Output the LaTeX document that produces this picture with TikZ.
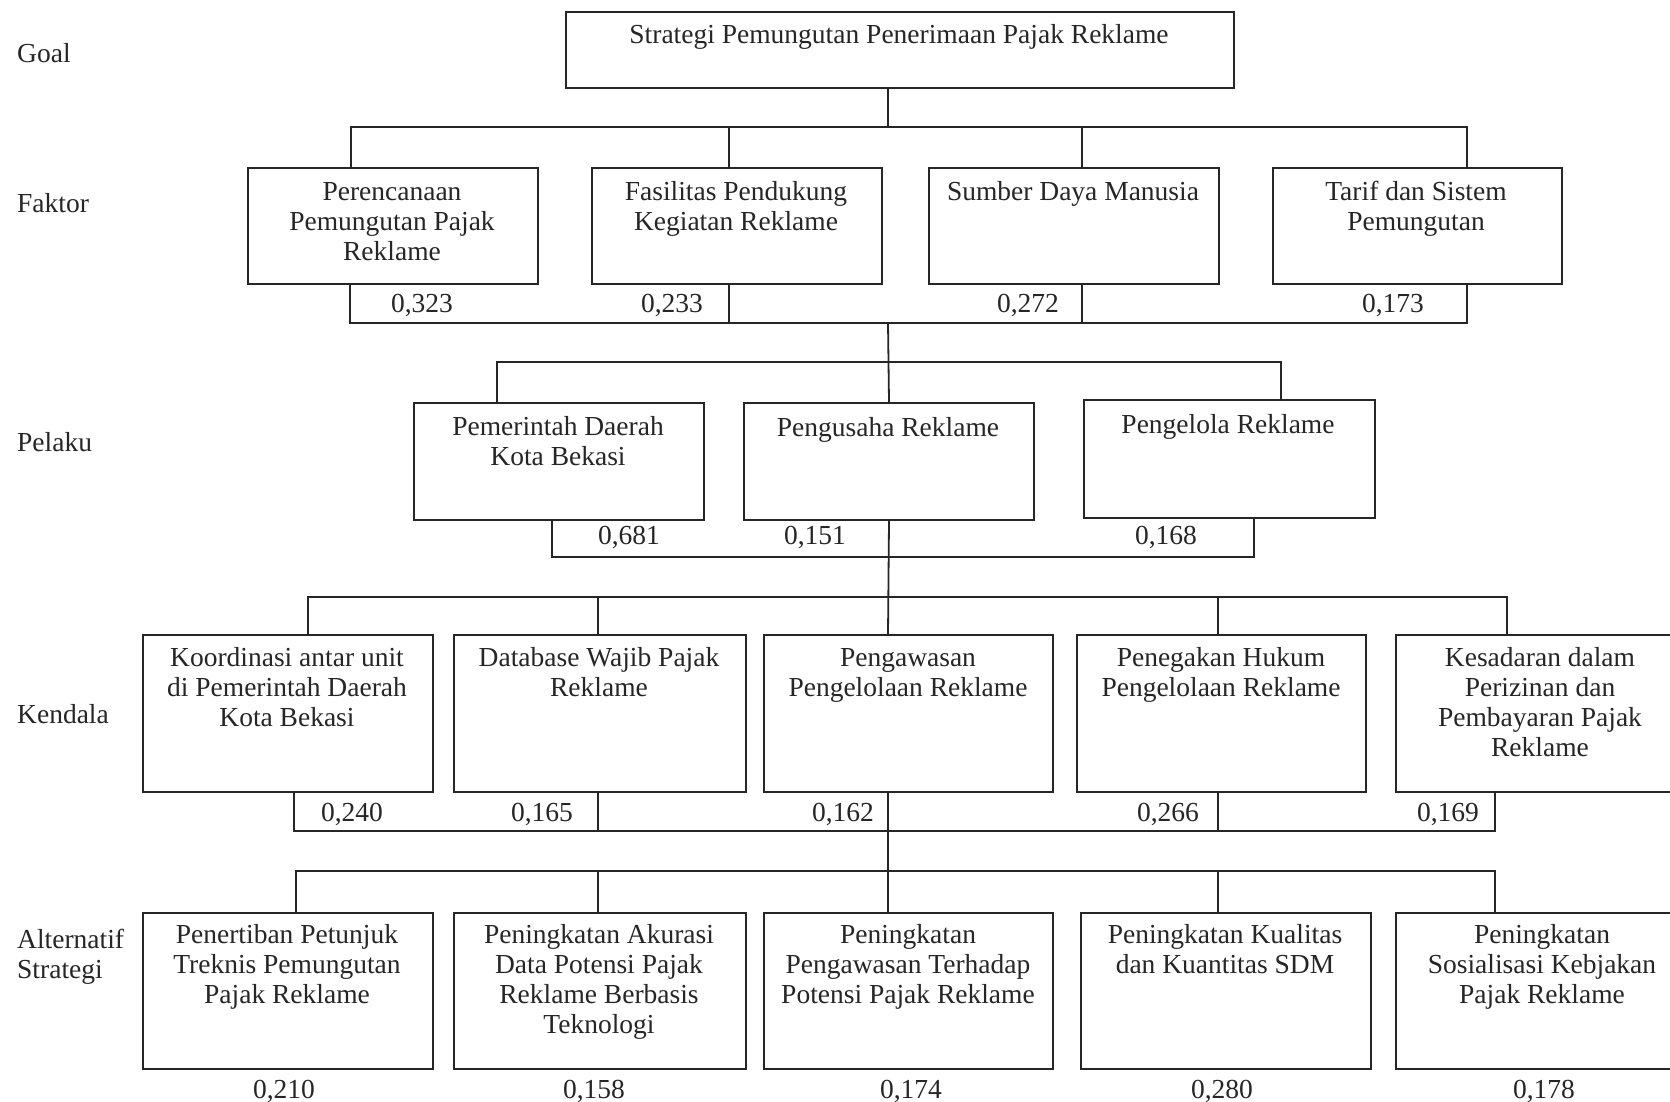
\documentclass[tikz,border=0pt]{standalone}
\usepackage{fontspec}
\setmainfont{Liberation Serif}
\begin{document}
\begin{tikzpicture}[x=1pt,y=-1pt,
  bx/.style n args={2}{draw=black!85, line width=2pt, anchor=north west, minimum width=#1 pt, minimum height=#2 pt, inner sep=0pt},
  tx/.style={font=\fontsize{27.5}{30}\selectfont, text=black!85, align=center, anchor=north, inner sep=0pt},
  vl/.style={font=\fontsize{27.5}{30}\selectfont, text=black!85, anchor=base, inner sep=0pt},
  lb/.style={font=\fontsize{27.5}{30}\selectfont, text=black!85, anchor=base west, inner sep=0pt},
  ln/.style={draw=black!85, line width=1.8pt, line cap=rect}]
\useasboundingbox (0,0) rectangle (1670,1102);
\clip (0,0) rectangle (1670,1102);
\fill[white] (0,0) rectangle (1670,1102);

% left labels
\node[lb] (lgoal) at (17,63) {Goal};
\node[lb] (lfak) at (17,213) {Faktor};
\node[lb] (lpel) at (17,451) {Pelaku};
\node[lb] (lken) at (17,723) {Kendala};
\node[tx, align=left, anchor=north west] (lalt) at (17,927) {\strut Alternatif\\Strategi};

% goal
\node[bx={668}{76}] (goal) at (565,11) {};
\node[tx] (goalt) at (899,22) {\strut Strategi Pemungutan Penerimaan Pajak Reklame};

% faktor
\node[bx={290}{116}] (f1) at (247,167) {};
\node[bx={290}{116}] (f2) at (591,167) {};
\node[bx={290}{116}] (f3) at (928,167) {};
\node[bx={289}{116}] (f4) at (1272,167) {};
\node[tx] (f1t) at (392,179) {\strut Perencanaan\\Pemungutan Pajak\\Reklame};
\node[tx] (f2t) at (736,179) {\strut Fasilitas Pendukung\\Kegiatan Reklame};
\node[tx] (f3t) at (1073,179) {\strut Sumber Daya Manusia};
\node[tx] (f4t) at (1416,179) {\strut Tarif dan Sistem\\Pemungutan};
\node[vl] (v11) at (422,312) {0,323};
\node[vl] (v12) at (672,312) {0,233};
\node[vl] (v13) at (1028,312) {0,272};
\node[vl] (v14) at (1393,312) {0,173};

% pelaku
\node[bx={290}{117}] (p1) at (413,402) {};
\node[bx={290}{117}] (p2) at (743,402) {};
\node[bx={291}{118}] (p3) at (1083,399) {};
\node[tx] (p1t) at (558,414) {\strut Pemerintah Daerah\\Kota Bekasi};
\node[tx] (p2t) at (888,415) {\strut Pengusaha Reklame};
\node[tx] (p3t) at (1228,412) {\strut Pengelola Reklame};
\node[vl] (v21) at (629,544) {0,681};
\node[vl] (v22) at (815,544) {0,151};
\node[vl] (v23) at (1166,544) {0,168};

% kendala
\node[bx={290}{157}] (k1) at (142,634) {};
\node[bx={292}{157}] (k2) at (453,634) {};
\node[bx={289}{157}] (k3) at (763,634) {};
\node[bx={289}{157}] (k4) at (1076,634) {};
\node[bx={290}{157}] (k5) at (1395,634) {};
\node[tx] (k1t) at (287,645) {\strut Koordinasi antar unit\\di Pemerintah Daerah\\Kota Bekasi};
\node[tx] (k2t) at (599,645) {\strut Database Wajib Pajak\\Reklame};
\node[tx] (k3t) at (908,645) {\strut Pengawasan\\Pengelolaan Reklame};
\node[tx] (k4t) at (1221,645) {\strut Penegakan Hukum\\Pengelolaan Reklame};
\node[tx] (k5t) at (1540,645) {\strut Kesadaran dalam\\Perizinan dan\\Pembayaran Pajak\\Reklame};
\node[vl] (v31) at (352,821) {0,240};
\node[vl] (v32) at (542,821) {0,165};
\node[vl] (v33) at (843,821) {0,162};
\node[vl] (v34) at (1168,821) {0,266};
\node[vl] (v35) at (1448,821) {0,169};

% alternatif
\node[bx={290}{156}] (a1) at (142,912) {};
\node[bx={292}{156}] (a2) at (453,912) {};
\node[bx={289}{156}] (a3) at (763,912) {};
\node[bx={290}{156}] (a4) at (1080,912) {};
\node[bx={290}{156}] (a5) at (1395,912) {};
\node[tx] (a1t) at (287,922) {\strut Penertiban Petunjuk\\Treknis Pemungutan\\Pajak Reklame};
\node[tx] (a2t) at (599,922) {\strut Peningkatan Akurasi\\Data Potensi Pajak\\Reklame Berbasis\\Teknologi};
\node[tx] (a3t) at (908,922) {\strut Peningkatan\\Pengawasan Terhadap\\Potensi Pajak Reklame};
\node[tx] (a4t) at (1225,922) {\strut Peningkatan Kualitas\\dan Kuantitas SDM};
\node[tx] (a5t) at (1542,922) {\strut Peningkatan\\Sosialisasi Kebjakan\\Pajak Reklame};
\node[vl] (v41) at (284,1098) {0,210};
\node[vl] (v42) at (594,1098) {0,158};
\node[vl] (v43) at (911,1098) {0,174};
\node[vl] (v44) at (1222,1098) {0,280};
\node[vl] (v45) at (1544,1098) {0,178};

% goal -> faktor
\coordinate (h1a) at (351,127);
\coordinate (h1b) at (729,127);
\coordinate (h1c) at (888,127);
\coordinate (h1d) at (1082,127);
\coordinate (h1e) at (1467,127);
\draw[ln] (goal.south -| h1c) -- (h1c);
\draw[ln] (f1.north -| h1a) -- (h1a) -- (h1e) -- (f4.north -| h1e);
\draw[ln] (h1b) -- (f2.north -| h1b);
\draw[ln] (h1d) -- (f3.north -| h1d);

% faktor -> pelaku
\coordinate (h2a) at (350,323);
\coordinate (h2b) at (729,323);
\coordinate (h2c) at (888,323);
\coordinate (h2d) at (1082,323);
\coordinate (h2e) at (1467,323);
\draw[ln] (f1.south -| h2a) -- (h2a) -- (h2e) -- (f4.south -| h2e);
\draw[ln] (f2.south -| h2b) -- (h2b);
\draw[ln] (f3.south -| h2d) -- (h2d);
\draw[ln] (h2c) -- (p2.north);
\coordinate (h3a) at (497,362);
\coordinate (h3e) at (1281,362);
\draw[ln] (p1.north -| h3a) -- (h3a) -- (h3e) -- (p3.north -| h3e);

% pelaku -> kendala
\coordinate (h4a) at (552,557);
\coordinate (h4c) at (888,557);
\coordinate (h4e) at (1254,557);
\draw[ln] (p1.south -| h4a) -- (h4a) -- (h4e) -- (p3.south -| h4e);
\draw[ln] (p2.south) -- (k3.north -| h4c);
\coordinate (h5a) at (308,597);
\coordinate (h5b) at (598,597);
\coordinate (h5d) at (1218,597);
\coordinate (h5e) at (1507,597);
\draw[ln] (k1.north -| h5a) -- (h5a) -- (h5e) -- (k5.north -| h5e);
\draw[ln] (h5b) -- (k2.north -| h5b);
\draw[ln] (h5d) -- (k4.north -| h5d);

% kendala -> alternatif
\coordinate (h6a) at (294,831);
\coordinate (h6b) at (598,831);
\coordinate (h6c) at (888,831);
\coordinate (h6d) at (1218,831);
\coordinate (h6e) at (1495,831);
\draw[ln] (k1.south -| h6a) -- (h6a) -- (h6e) -- (k5.south -| h6e);
\draw[ln] (k2.south -| h6b) -- (h6b);
\draw[ln] (k4.south -| h6d) -- (h6d);
\draw[ln] (k3.south -| h6c) -- (a3.north -| h6c);
\coordinate (h7a) at (296,871);
\coordinate (h7b) at (598,871);
\coordinate (h7d) at (1218,871);
\coordinate (h7e) at (1495,871);
\draw[ln] (a1.north -| h7a) -- (h7a) -- (h7e) -- (a5.north -| h7e);
\draw[ln] (h7b) -- (a2.north -| h7b);
\draw[ln] (h7d) -- (a4.north -| h7d);
\end{tikzpicture}
\end{document}
